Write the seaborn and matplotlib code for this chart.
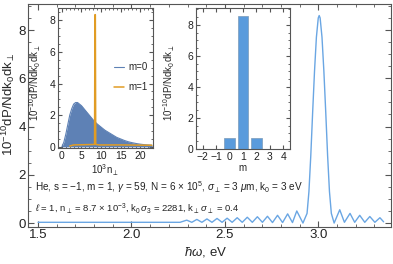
import numpy as np
import pandas as pd
import matplotlib
matplotlib.use('Agg')
import matplotlib.pyplot as plt
import seaborn as sns
from matplotlib.ticker import MultipleLocator

# main spectrum (hbar omega in eV, 1e-10 dP/Ndk0dk)
omega = [1.50, 2.26, 2.296, 2.323, 2.35, 2.377, 2.404, 2.431, 2.458, 2.485,
         2.512, 2.539, 2.566, 2.593, 2.62, 2.647, 2.674, 2.701, 2.728, 2.755,
         2.782, 2.809, 2.836, 2.862, 2.885, 2.918,
         2.94, 2.95, 2.96, 2.97, 2.98, 2.99, 3.0, 3.005, 3.01, 3.02, 3.03,
         3.04, 3.05, 3.06, 3.07, 3.085,
         3.115, 3.14, 3.17, 3.195, 3.222, 3.249, 3.276, 3.303, 3.33, 3.35]
spec = [0.03, 0.03, 0.12, 0.03, 0.15, 0.03, 0.17, 0.03, 0.19, 0.03,
        0.20, 0.03, 0.22, 0.03, 0.24, 0.03, 0.26, 0.03, 0.28, 0.02,
        0.32, 0.02, 0.38, 0.02, 0.50, 0.0,
        0.4, 1.3, 2.8, 4.6, 6.3, 7.7, 8.5, 8.6, 8.5, 7.7, 6.3,
        4.6, 2.8, 1.3, 0.4, 0.0,
        0.55, 0.03, 0.40, 0.03, 0.32, 0.03, 0.27, 0.03, 0.22, 0.05]

# left inset: distribution over 10^3 n_perp
n_perp = [0, 0.5, 1, 1.5, 2, 2.5, 3, 3.5, 4, 5, 6, 7, 8, 9, 10, 11, 12, 13,
          14, 15, 16, 17, 18, 19, 20, 21, 22, 23]
m0 = [0, 0.3, 0.8, 1.4, 2.0, 2.4, 2.7, 2.8, 2.8, 2.6, 2.3, 2.0, 1.7, 1.45,
      1.25, 1.05, 0.9, 0.75, 0.6, 0.5, 0.4, 0.32, 0.26, 0.21, 0.17, 0.14,
      0.12, 0.1]
n_m1 = [2.0, 3.0, 8.35, 8.45, 8.55, 8.65, 9.5, 15, 23]
m1 = [0.05, 0.12, 0.15, 8.35, 8.35, 0.15, 0.12, 0.12, 0.1]

# right inset: distribution over m
m_vals = [0, 1, 2]
m_heights = [0.7, 8.6, 0.7]

sns.set_style('ticks')
plt.rcParams['font.family'] = ['Liberation Sans', 'DejaVu Sans']
plt.rcParams['mathtext.fontset'] = 'custom'
plt.rcParams['mathtext.rm'] = 'Liberation Sans'
plt.rcParams['mathtext.it'] = 'Liberation Sans:italic'
plt.rcParams['mathtext.fallback'] = 'stixsans'

frame = '#555555'
ylab = r'10$^{-10}$dP/Ndk$_0$dk$_\perp$'


def style(ax, size, major, minor, pad=2):
    for s in ax.spines.values():
        s.set_color(frame)
        s.set_linewidth(0.8)
    ax.tick_params(which='both', direction='in', top=True, right=True,
                   colors=frame, labelcolor='#222222', labelsize=size, pad=pad)
    ax.tick_params(which='major', length=major)
    ax.tick_params(which='minor', length=minor)


fig = plt.figure(figsize=(3.93, 2.64), dpi=100)

ax = fig.add_axes([0.0712, 0.140, 0.924, 0.845])
df = pd.DataFrame({'omega': omega, 'spec': spec})
sns.lineplot(data=df, x='omega', y='spec', ax=ax, color='#6aa6e3', lw=1.0)
ax.set_xlim(1.446, 3.39)
ax.set_ylim(-0.166, 9.08)
ax.xaxis.set_major_locator(MultipleLocator(0.5))
ax.xaxis.set_minor_locator(MultipleLocator(0.1))
ax.yaxis.set_major_locator(MultipleLocator(2))
ax.yaxis.set_minor_locator(MultipleLocator(0.5))
ax.xaxis.set_major_formatter(matplotlib.ticker.FormatStrFormatter('%.1f'))
style(ax, 9.5, 4, 2, pad=1.5)
ax.set_xlabel(r'$\hbar\omega$, eV', fontsize=9.5, labelpad=1)
ax.set_ylabel(ylab, fontsize=9.5)
ax.yaxis.set_label_coords(-0.03, 0.55)
ax.xaxis.set_label_coords(0.49, -0.08)
ax.text(0.019, 0.179,
        r'He, s = $-$1, m = 1, $\gamma$ = 59, N = 6 $\times$ 10$^5$, '
        r'$\sigma_\perp$ = 3 $\mu$m, k$_0$ = 3 eV',
        transform=ax.transAxes, fontsize=7.2, va='center', color='#222222')
ax.text(0.019, 0.081,
        r'$\ell$ = 1, n$_\perp$ = 8.7 $\times$ 10$^{-3}$, '
        r'k$_0\,\sigma_3$ = 2281, k$_\perp\,\sigma_\perp$ = 0.4',
        transform=ax.transAxes, fontsize=6.8, va='center', color='#222222')

# left inset
ax1 = fig.add_axes([0.1476, 0.439, 0.2417, 0.530])
ax1.fill_between(n_perp, 0, m0, color='#5e81b5', lw=0)
sns.lineplot(x=n_perp, y=m0, ax=ax1, color='#5e81b5', lw=0.8, label='m=0')
sns.lineplot(x=n_m1, y=m1, ax=ax1, color='#e19c24', lw=1.1, label='m=1')
ax1.set_xlim(-1.0, 23.3)
ax1.set_ylim(-0.08, 8.76)
ax1.xaxis.set_major_locator(MultipleLocator(5))
ax1.xaxis.set_minor_locator(MultipleLocator(1))
ax1.yaxis.set_major_locator(MultipleLocator(2))
ax1.yaxis.set_minor_locator(MultipleLocator(0.5))
style(ax1, 7.5, 3, 1.5)
ax1.set_xlabel(r'10$^3$n$_\perp$', fontsize=7, labelpad=1)
ax1.set_ylabel(ylab, fontsize=7)
ax1.yaxis.set_label_coords(-0.16, 0.47)
ax1.legend(frameon=False, loc='upper left', bbox_to_anchor=(0.55, 0.64),
           fontsize=7, handlelength=1.0, handletextpad=0.5,
           labelspacing=1.0, borderaxespad=0)

# right inset
ax2 = fig.add_axes([0.4987, 0.436, 0.239, 0.534])
sns.barplot(x=m_vals, y=m_heights, ax=ax2, native_scale=True,
            color='#5a9bdc', saturation=1, width=0.8,
            edgecolor='#7a9ab8', linewidth=0.5)
ax2.set_xlim(-2.5, 4.5)
ax2.set_ylim(0, 9.1)
ax2.set_xticks([-2, -1, 0, 1, 2, 3, 4])
ax2.set_xticklabels(['\u22122', '\u22121', '0', '1', '2', '3', '4'])
ax2.yaxis.set_major_locator(MultipleLocator(2))
ax2.yaxis.set_minor_locator(MultipleLocator(0.5))
style(ax2, 7.5, 3, 1.5)
ax2.set_xlabel('m', fontsize=7, labelpad=1)
ax2.set_ylabel(ylab, fontsize=7)
ax2.yaxis.set_label_coords(-0.2, 0.47)

fig.savefig('out.png', dpi=100)
